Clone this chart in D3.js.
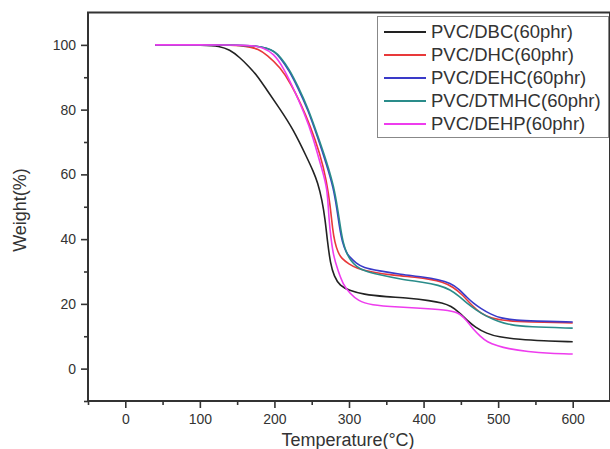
<!DOCTYPE html>
<html>
<head>
<meta charset="utf-8">
<script src="https://cdn.jsdelivr.net/npm/d3@7"></script>
<style>
  html, body { margin: 0; padding: 0; background: #fff; }
  svg { display: block; }
</style>
</head>
<body>
<svg id="chart" width="610" height="449"></svg>
<script>
// ---- Data (Temperature °C, Weight %) ----
const seriesNames = ["PVC/DBC(60phr)", "PVC/DHC(60phr)", "PVC/DEHC(60phr)", "PVC/DTMHC(60phr)", "PVC/DEHP(60phr)"];
const seriesColors = ["#222222", "#e8393a", "#3a3ac8", "#2a8c8a", "#ee3cee"];

const dbc = [[40,100],[110,100],[125,99.6],[140,98.6],[154,96],[165,93.5],[177,90.5],[190,86],[208,80],[225,74],[244,65],[252,61],[258,57.5],[264,52],[268,46],[271,39.5],[275,32.5],[280,28.5],[288,25.5],[300,24.2],[319,22.9],[350,22.2],[380,21.8],[409,21],[425,20.3],[437,19.3],[447,17.5],[458,15],[469,12.8],[485,10.8],[500,9.8],[529,9.0],[560,8.6],[600,8.3]];
const dhc = [[40,100],[130,100],[155,99.8],[170,99.2],[177,98.8],[190,97],[208,93],[222,88],[235,82],[248,75],[261,66.5],[270,58],[275,50],[278,43],[281,39],[285,36],[290,34],[300,32.3],[310,31],[330,29.8],[360,28.8],[390,28.2],[409,27.6],[425,26.8],[440,25.2],[452,22.8],[465,19.5],[476,17.2],[490,15.6],[510,14.8],[540,14.4],[600,14.1]];
const dehc = [[40,100],[150,100],[175,99.7],[190,99],[200,98],[208,96],[220,92],[231,87],[245,80],[258,71.4],[270,63],[279,56],[284,49],[287,44],[291,39],[296,36],[301,34.4],[310,32.5],[319,31.2],[340,30.2],[369,29.1],[400,28.3],[420,27.5],[436,26.4],[448,24.5],[458,22],[467,20.2],[476,18.7],[490,16.8],[503,15.6],[525,14.9],[547,14.7],[600,14.4]];
const dtmhc = [[40,100],[150,100],[175,99.7],[190,99],[200,98],[208,96.3],[220,92.5],[231,87.5],[245,80.5],[258,72],[270,64],[280,56],[285,49],[289,43],[292,39],[297,35.5],[302,33.5],[310,31.5],[320,30.2],[340,29],[369,27.6],[400,26.7],[420,25.8],[436,24.4],[448,22.3],[458,20.2],[470,18.2],[485,16],[500,14.6],[516,13.5],[540,12.9],[600,12.5]];
const dehp = [[40,100],[150,100],[170,99.8],[185,99.2],[199,97.3],[212,93],[225,86.8],[240,79],[252,71.4],[263,62],[271,56],[273,46],[276,40],[279,35],[285,30.4],[292,26],[301,23.3],[312,21],[328,19.6],[369,19],[400,18.6],[436,18],[449,17],[458,14.8],[467,12],[476,10],[485,8.2],[500,7],[512,6.2],[540,5.2],[570,4.7],[600,4.5]];
const seriesData = [dbc, dhc, dehc, dtmhc, dehp];

const xTicks = [0, 100, 200, 300, 400, 500, 600];
const xMinorTicks = [-50, 50, 150, 250, 350, 450, 550];
const yTicks = [0, 20, 40, 60, 80, 100];
const yMinorTicks = [-10, 10, 30, 50, 70, 90];

// ---- Layout ----
const svg = d3.select("#chart");
const x = d3.scaleLinear().domain([-50, 650]).range([88, 610]);
const y = d3.scaleLinear().domain([-10, 110]).range([401, 12.5]);
const axisColor = "#333";
const font = "Arial, 'Liberation Sans', sans-serif";

// curves
const line = d3.line().x(d => x(d[0])).y(d => y(d[1])).curve(d3.curveBasis);
const gLines = svg.append("g");
seriesData.forEach((s, i) => {
  gLines.append("path").attr("d", line(s)).attr("fill", "none")
    .attr("stroke", seriesColors[i]).attr("stroke-width", 1.6).attr("stroke-linejoin", "round");
});

// axes
const xAxis = svg.append("g").attr("transform", `translate(0,${y(-10)})`)
  .call(d3.axisBottom(x).tickValues(xTicks).tickSize(7).tickPadding(6).tickFormat(d3.format("d")));
const xMinor = svg.append("g").attr("transform", `translate(0,${y(-10)})`)
  .call(d3.axisBottom(x).tickValues(xMinorTicks).tickSize(4).tickFormat(""));
const yAxis = svg.append("g").attr("transform", `translate(${x(-50)},0)`)
  .call(d3.axisLeft(y).tickValues(yTicks).tickSize(7).tickPadding(5).tickFormat(d3.format("d")));
const yMinor = svg.append("g").attr("transform", `translate(${x(-50)},0)`)
  .call(d3.axisLeft(y).tickValues(yMinorTicks).tickSize(4).tickFormat(""));

[xAxis, xMinor, yAxis, yMinor].forEach(g => {
  g.select(".domain").remove();
  g.selectAll(".tick line").attr("stroke", axisColor).attr("stroke-width", 1.6);
  g.selectAll(".tick text").attr("fill", "#333").style("font-family", font).style("font-size", "14px");
});

// frame
svg.append("rect")
  .attr("x", x(-50)).attr("y", y(110))
  .attr("width", x(650) - x(-50)).attr("height", y(-10) - y(110))
  .attr("fill", "none").attr("stroke", axisColor).attr("stroke-width", 2);

// axis titles
svg.append("text").attr("x", 348).attr("y", 446).attr("text-anchor", "middle")
  .style("font-family", font).style("font-size", "18px").attr("fill", "#333")
  .text("Temperature(°C)");
svg.append("text").attr("transform", `translate(20,210) rotate(-90)`).attr("text-anchor", "middle")
  .attr("dy", "0.35em")
  .style("font-family", font).style("font-size", "18px").attr("fill", "#333")
  .text("Weight(%)");

// legend
const lg = svg.append("g");
lg.append("rect").attr("x", 377.5).attr("y", 16.5).attr("width", 231).attr("height", 121)
  .attr("fill", "#fff").attr("stroke", "#888").attr("stroke-width", 1);
seriesNames.forEach((n, i) => {
  const cy = 32 + i * 23;
  lg.append("line").attr("x1", 384).attr("x2", 426).attr("y1", cy).attr("y2", cy)
    .attr("stroke", seriesColors[i]).attr("stroke-width", 1.8);
  lg.append("text").attr("x", 431).attr("y", cy).attr("dy", "0.35em")
    .style("font-family", font).style("font-size", "18.5px").attr("fill", "#333")
    .text(n);
});
</script>
</body>
</html>
